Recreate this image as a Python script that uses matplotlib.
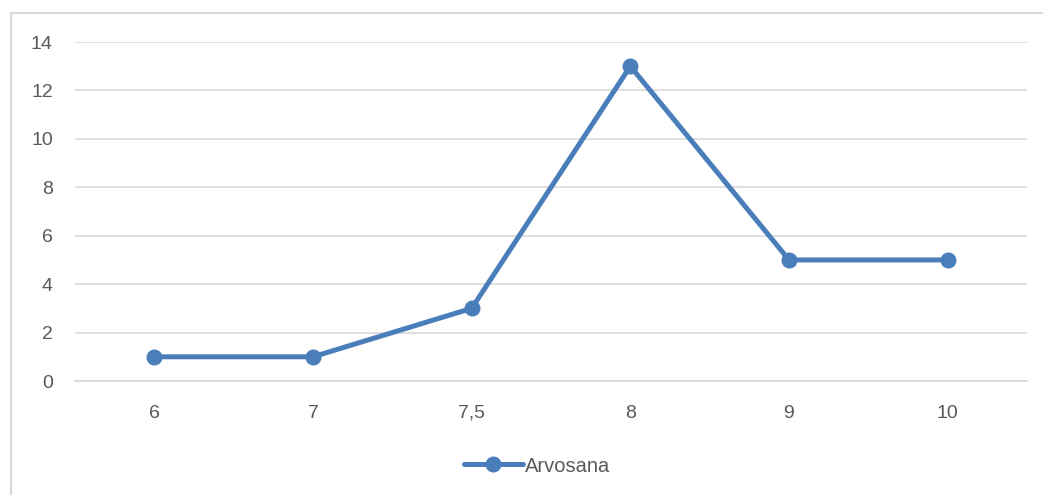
import matplotlib.pyplot as plt
from matplotlib.patches import Rectangle

categories = ['6', '7', '7,5', '8', '9', '10']
values = [1, 1, 3, 13, 5, 5]
series_name = 'Arvosana'

plt.rcParams['font.family'] = ['Liberation Sans', 'DejaVu Sans']

W, H = 1043, 495
fig = plt.figure(figsize=(W / 100, H / 100), dpi=100)
ax = fig.add_axes([75 / W, 1 - 381 / H, (1027 - 75) / W, (381 - 42) / H])

blue = '#4a7ebb'
text_grey = '#595959'
grid_grey = '#d9d9d9'

x = range(len(categories))
line, = ax.plot(x, values, color=blue, lw=3.6, marker='o', ms=10.5,
                solid_capstyle='round', solid_joinstyle='round',
                label=series_name, clip_on=False, zorder=3)

ax.set_xlim(-0.5, len(categories) - 0.5)
ax.set_ylim(0, 14)
ax.set_yticks(range(0, 15, 2))
ax.set_xticks(list(x))
ax.set_xticklabels(categories)
ax.yaxis.grid(True, color=grid_grey, lw=1.2)
ax.set_axisbelow(True)
for s in ax.spines.values():
    s.set_visible(False)
ax.spines['bottom'].set_visible(True)
ax.spines['bottom'].set_color(grid_grey)
ax.spines['bottom'].set_linewidth(1.2)
ax.tick_params(length=0, labelsize=14, labelcolor=text_grey)
ax.tick_params(axis='y', pad=16)
ax.tick_params(axis='x', pad=17)

leg = fig.legend(handles=[line], loc='center', bbox_to_anchor=(537 / W, 1 - 466 / H),
                 frameon=False, fontsize=14.5, handlelength=2.9, handletextpad=0.1,
                 labelcolor=text_grey)

# chart frame
fig.patches.append(Rectangle((11 / W, -0.1), 1.2, 1 - 13 / H + 0.1,
                             transform=fig.transFigure, fill=False,
                             edgecolor=grid_grey, lw=1.5))

fig.savefig('out.png', dpi=100)
